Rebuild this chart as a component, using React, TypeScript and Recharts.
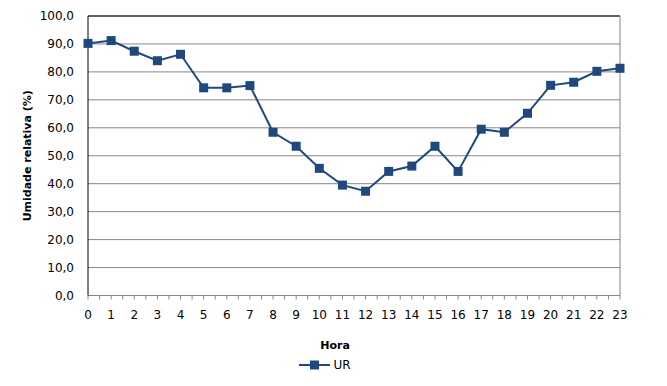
import React from 'react';
import {
  LineChart,
  Line,
  XAxis,
  YAxis,
  CartesianGrid,
  ReferenceLine,
  Legend,
} from 'recharts';

const HOURS = [0, 1, 2, 3, 4, 5, 6, 7, 8, 9, 10, 11, 12, 13, 14, 15, 16, 17, 18, 19, 20, 21, 22, 23];
const UR = [
  90.2, 91.2, 87.4, 84.0, 86.3, 74.3, 74.3, 75.1, 58.4, 53.4, 45.5, 39.5,
  37.3, 44.4, 46.3, 53.4, 44.4, 59.5, 58.4, 65.2, 75.2, 76.3, 80.2, 81.3,
];
const Y_TICKS = [0, 10, 20, 30, 40, 50, 60, 70, 80, 90, 100];

const SERIES_COLOR = '#1F497D';
const GRID_COLOR = '#868686';
const FONT = '"DejaVu Sans", Verdana, sans-serif';

const data = HOURS.map((h, i) => ({ hora: h, ur: UR[i] }));

// major + minor tick marks (minor ones get no label)
const xTicks = HOURS.flatMap((h, i) => (i < HOURS.length - 1 ? [h, h + 0.5] : [h]));

const fmtY = (v: number) => v.toFixed(1).replace('.', ',');
const fmtX = (v: number) => (Number.isInteger(v) ? String(v) : '');

const SquareDot = (props: any) => {
  const { cx, cy } = props;
  if (cx == null || cy == null) return null;
  return <rect x={cx - 4.5} y={cy - 4.5} width={9} height={9} fill={SERIES_COLOR} />;
};

const YTitle = (props: any) => {
  const vb = props.viewBox;
  const x = vb.x + 27;
  const y = vb.y + vb.height / 2;
  return (
    <text
      x={x}
      y={y}
      transform={`rotate(-90, ${x}, ${y})`}
      textAnchor="middle"
      dominantBaseline="central"
      fontFamily={FONT}
      fontSize={11}
      fontWeight="bold"
      fill="#000"
    >
      Umidade relativa (%)
    </text>
  );
};

const XTitle = () => (
  <text
    x={335}
    y={345}
    textAnchor="middle"
    dominantBaseline="central"
    fontFamily={FONT}
    fontSize={11}
    fontWeight="bold"
    fill="#000"
  >
    Hora
  </text>
);

const LegendContent = () => (
  <div style={{ display: 'flex', justifyContent: 'center', alignItems: 'center', fontFamily: FONT, fontSize: 12 }}>
    <svg width={34} height={12} style={{ marginLeft: -18 }}>
      <line x1={1} y1={6} x2={32} y2={6} stroke={SERIES_COLOR} strokeWidth={2} />
      <rect x={12} y={1.5} width={9} height={9} fill={SERIES_COLOR} />
    </svg>
    <span style={{ color: '#000', marginLeft: 1 }}>UR</span>
  </div>
);

export default function App() {
  return (
    <div style={{ position: 'absolute', left: 0, top: 0, background: '#fff' }}>
      <LineChart width={667} height={386} data={data} margin={{ top: 16, right: 47, bottom: 0, left: 0 }}>
        <CartesianGrid horizontal vertical={false} stroke={GRID_COLOR} />
        <XAxis
          dataKey="hora"
          type="number"
          domain={[0, 23]}
          ticks={xTicks}
          interval={0}
          tickFormatter={fmtX}
          height={90.5}
          stroke={GRID_COLOR}
          tickSize={4}
          tickMargin={11}
          tick={{ fill: '#000', fontFamily: FONT, fontSize: 12 }}
          label={{ content: <XTitle /> }}
        />
        <YAxis
          domain={[0, 100]}
          ticks={Y_TICKS}
          interval={0}
          tickFormatter={fmtY}
          width={88}
          stroke="#000"
          tickLine={false}
          tickSize={6}
          tickMargin={8}
          tick={{ fill: '#000', fontFamily: FONT, fontSize: 12 }}
          label={{ content: (p: any) => <YTitle {...p} /> }}
        />
        <ReferenceLine y={100} stroke="#000" />
        <ReferenceLine x={23} stroke={GRID_COLOR} />
        <Line
          type="linear"
          dataKey="ur"
          name="UR"
          stroke={SERIES_COLOR}
          strokeWidth={2}
          dot={<SquareDot />}
          activeDot={false}
          isAnimationActive={false}
        />
        <Legend
          layout="horizontal"
          verticalAlign="middle"
          align="center"
          wrapperStyle={{ top: 358, left: 0, width: 667 }}
          content={<LegendContent />}
        />
      </LineChart>
    </div>
  );
}
